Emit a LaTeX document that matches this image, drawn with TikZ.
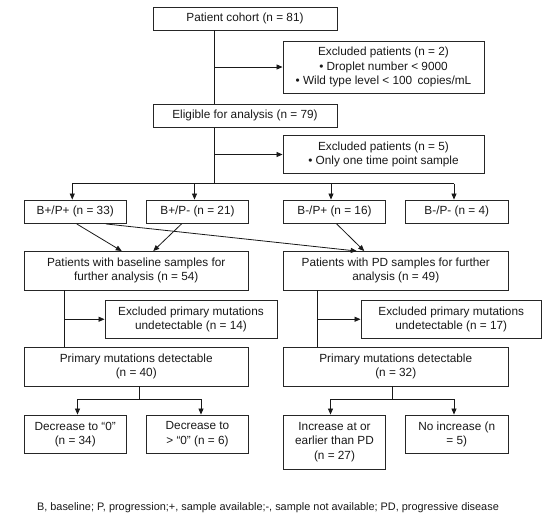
\documentclass[tikz,border=0pt]{standalone}
\usepackage{fontspec}
\setmainfont{Liberation Sans}
\usetikzlibrary{arrows.meta}
\begin{document}
\begin{tikzpicture}[x=1pt,y=-1pt,
  box/.style={draw=black!85,line width=0.9pt,inner sep=0pt,align=center,
    font=\fontsize{11.8}{14.3}\selectfont,text=black!90},
  line/.style={draw=black!90,line width=0.8pt},
  arr/.style={line,-{Triangle[length=6pt,width=5pt]}},
  note/.style={font=\fontsize{10.9}{12}\selectfont,text=black!90}]
\useasboundingbox[fill=white] (0,0) rectangle (550,520);
% boxes: center = corners average
\node[box,minimum width=184pt,minimum height=23pt] (cohort) at (245,18.5) {Patient cohort (n = 81)};
\node[box,minimum width=201pt,minimum height=52pt] (ex2) at (383.5,67) {Excluded patients (n = 2)\\ • Droplet number < 9000\\ • Wild type level < 100\, copies/mL};
\node[box,minimum width=184pt,minimum height=23.5pt] (elig) at (245,115.75) {Eligible for analysis (n = 79)};
\node[box,minimum width=201pt,minimum height=38pt] (ex5) at (383.5,154.5) {Excluded patients (n = 5)\\ • Only one time point sample};
\node[box,minimum width=102.5pt,minimum height=23.5pt] (bpp) at (75.25,211.75) {B+/P+ (n = 33)};
\node[box,minimum width=102pt,minimum height=23.5pt] (bpm) at (197.5,211.75) {B+/P- (n = 21)};
\node[box,minimum width=102pt,minimum height=23.5pt] (bmp) at (334.5,211.75) {B-/P+ (n = 16)};
\node[box,minimum width=102.5pt,minimum height=23.5pt] (bmm) at (456.75,211.75) {B-/P- (n = 4)};
\node[box,minimum width=224.5pt,minimum height=38.5pt] (base) at (136.25,270.75) {Patients with baseline samples for\\ further analysis (n = 54)};
\node[box,minimum width=224.5pt,minimum height=38.5pt] (pd) at (395.75,270.75) {Patients with PD samples for further\\ analysis (n = 49)};
\node[box,minimum width=172pt,minimum height=38.5pt] (ex14) at (191,319.25) {Excluded primary mutations\\ undetectable (n = 14)};
\node[box,minimum width=180.5pt,minimum height=38.5pt] (ex17) at (451.25,319.25) {Excluded primary mutations\\ undetectable (n = 17)};
\node[box,minimum width=224.5pt,minimum height=38.5pt] (priml) at (136.25,366.75) {Primary mutations detectable\\ (n = 40)};
\node[box,minimum width=224.5pt,minimum height=38.5pt] (primr) at (395.75,366.75) {Primary mutations detectable\\ (n = 32)};
\node[box,minimum width=102.5pt,minimum height=38.5pt] (dec0) at (75.25,434.25) {Decrease to “0”\\ (n = 34)};
\node[box,minimum width=102pt,minimum height=38.5pt] (decg) at (197.5,434.25) {Decrease to\\ > “0” (n = 6)};
\node[box,minimum width=102pt,minimum height=54pt] (inc) at (334.5,442) {Increase at or\\ earlier than PD\\ (n = 27)};
\node[box,minimum width=102.5pt,minimum height=38.5pt] (noinc) at (456.75,434.25) {No increase (n\\ = 5)};
\node[note] (foot) at (268,508) {B, baseline; P, progression;+, sample available;-, sample not available; PD, progressive disease};
% trunk coordinates
\coordinate (t1) at (214,0);
\coordinate (br1) at (0,183.5);
\coordinate (tl) at (64,0);
\coordinate (tr) at (317.5,0);
\coordinate (br2) at (0,399);
% main trunk
\draw[line] (cohort.south -| t1) -- (elig.north -| t1);
\draw[arr] (t1 |- ex2.west) -- (ex2.west);
\draw[line] (elig.south -| t1) -- (t1 |- br1);
\draw[arr] (t1 |- ex5.west) -- (ex5.west);
\draw[line] ([xshift=-3pt]bpp.north |- br1) -- ([xshift=-2.75pt]bmm.north |- br1);
\draw[arr] ([xshift=-3pt]bpp.north |- br1) -- ([xshift=-3pt]bpp.north);
\draw[arr] ([xshift=-3pt]bpm.north |- br1) -- ([xshift=-3pt]bpm.north);
\draw[arr] ([xshift=-3.5pt]bmp.north |- br1) -- ([xshift=-3.5pt]bmp.north);
\draw[arr] ([xshift=-2.75pt]bmm.north |- br1) -- ([xshift=-2.75pt]bmm.north);
% diagonals
\draw[arr] ([xshift=1.5pt]bpp.south) -- ([xshift=-14.5pt]base.north);
\draw[arr] ([xshift=-16pt]bpm.south) -- ([xshift=17pt]base.north);
\draw[arr] ([xshift=30.75pt]bpp.south) -- ([xshift=-39pt]pd.north);
\draw[arr] ([xshift=2.2pt]bmp.south) -- ([xshift=-31.5pt]pd.north);
% side trunks
\draw[line] (base.south -| tl) -- (priml.north -| tl);
\draw[arr] (tl |- ex14.west) -- (ex14.west);
\draw[line] (pd.south -| tr) -- (primr.north -| tr);
\draw[arr] (tr |- ex17.west) -- (ex17.west);
% bottom branches
\draw[line] ([xshift=3.25pt]priml.south) -- ([xshift=3.25pt]priml.south |- br2);
\draw[line] ([xshift=2.25pt]dec0.north |- br2) -- ([xshift=3.5pt]decg.north |- br2);
\draw[arr] ([xshift=2.25pt]dec0.north |- br2) -- ([xshift=2.25pt]dec0.north);
\draw[arr] ([xshift=3.5pt]decg.north |- br2) -- ([xshift=3.5pt]decg.north);
\draw[line] ([xshift=-3.75pt]primr.south) -- ([xshift=-3.75pt]primr.south |- br2);
\draw[line] ([xshift=-4pt]inc.north |- br2) -- ([xshift=-2.75pt]noinc.north |- br2);
\draw[arr] ([xshift=-4pt]inc.north |- br2) -- ([xshift=-4pt]inc.north);
\draw[arr] ([xshift=-2.75pt]noinc.north |- br2) -- ([xshift=-2.75pt]noinc.north);
\end{tikzpicture}
\end{document}
